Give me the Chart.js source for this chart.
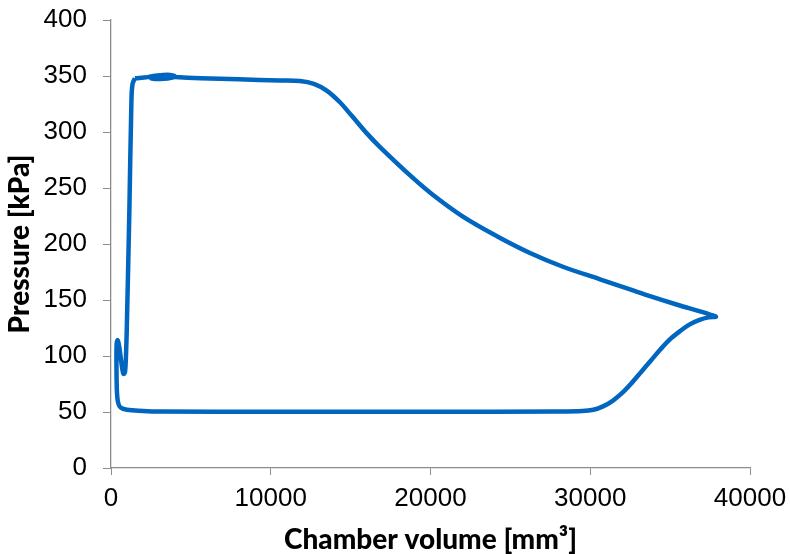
<!DOCTYPE html>
<html>
<head>
<meta charset="utf-8">
<script src="https://cdn.jsdelivr.net/npm/chart.js@4.4.1/dist/chart.umd.min.js"></script>
<style>
  html, body { margin: 0; padding: 0; background: #fff; }
  #wrap { width: 790px; height: 554px; }
</style>
</head>
<body>
<div id="wrap"><canvas id="pvChart"></canvas></div>
<script>
// chamber volume [mm3] and pressure [kPa], one closed cycle
const volumeMm3 = [
  1500, 2300, 2900, 3700, 4000, 3300, 2500, 3000, 4000, 5600, 8000, 10580, 11830,
  12700, 13500, 14300, 15100, 16000, 16840, 18900, 20160, 22030, 24160,
  26230, 28290, 30610, 32490, 33740, 35400, 36870, 37500, 37870,
  37400, 36800, 36200, 35600, 35000, 34400, 33800, 33200, 32600, 32000, 31400,
  30800, 30200, 29500, 28000, 20000, 10000, 3000, 2000, 1000, 600, 450, 380, 350, 340,
  360, 420, 520, 650, 780, 880, 960, 1000, 1150, 1280, 1350, 1500
];
const pressureKpa = [
  348, 349, 350.5, 351, 349.5, 347.5, 348, 349.5, 349, 348, 347, 346, 345.5,
  343, 337, 327, 314, 299, 286.6, 259, 243.8, 224.5, 207,
  192, 179.7, 168.5, 159.5, 153.5, 146, 139.8, 137, 135,
  134.5, 132, 128, 122, 115, 106, 96, 86, 76, 67, 60,
  55, 52, 50.8, 50.4, 50.3, 50.3, 50.5, 51, 52, 54, 58, 66, 80, 100,
  112, 114, 108, 94, 84, 86, 110, 132, 230, 329, 343, 348
];
const xTickValues = [0, 10000, 20000, 30000, 40000];
const yTickValues = [0, 50, 100, 150, 200, 250, 300, 350, 400];

const points = volumeMm3.map((v, i) => ({ x: v, y: pressureKpa[i] }));
const axisGray = "#8c8c8c";
const tickFont = { family: "'Liberation Sans', Arial, sans-serif", size: 26 };
const titleFont = { family: "Lato, 'DejaVu Sans', sans-serif", size: 28, weight: 900, lineHeight: 1 };

new Chart(document.getElementById("pvChart"), {
  type: "scatter",
  data: {
    datasets: [{
      data: points,
      showLine: true,
      borderColor: "#0066c0",
      borderWidth: 4.5,
      pointRadius: 0,
      tension: 0.35,
      fill: false
    }]
  },
  options: {
    responsive: true,
    maintainAspectRatio: false,
    animation: false,
    layout: { padding: { top: 20, right: 40, left: 0, bottom: 0 } },
    plugins: { legend: { display: false }, tooltip: { enabled: false } },
    scales: {
      x: {
        type: "linear",
        min: 0,
        max: 40000,
        afterBuildTicks: s => { s.ticks = xTickValues.map(v => ({ value: v })); },
        afterFit: s => { s.height = 86; s.paddingLeft = 0; s.paddingRight = 0; },
        grid: { drawOnChartArea: false, color: axisGray, tickLength: 7 },
        border: { color: axisGray, width: 1.3 },
        ticks: { font: tickFont, color: "#000", padding: 8, maxRotation: 0, callback: v => v },
        title: { display: true, text: "Chamber volume [mm³]", font: titleFont, color: "#000", padding: { top: 0, bottom: 0 } }
      },
      y: {
        min: 0,
        max: 400,
        afterBuildTicks: s => { s.ticks = yTickValues.map(v => ({ value: v })); },
        afterFit: s => { s.width = 111; s.paddingTop = 0; s.paddingBottom = 0; },
        grid: { drawOnChartArea: false, color: axisGray, tickLength: 8 },
        border: { color: axisGray, width: 1.3 },
        ticks: { font: tickFont, color: "#000", padding: 16 },
        title: { display: true, text: "Pressure [kPa]", font: titleFont, color: "#000", padding: { top: 6, bottom: 0 } }
      }
    }
  }
});
</script>
</body>
</html>
